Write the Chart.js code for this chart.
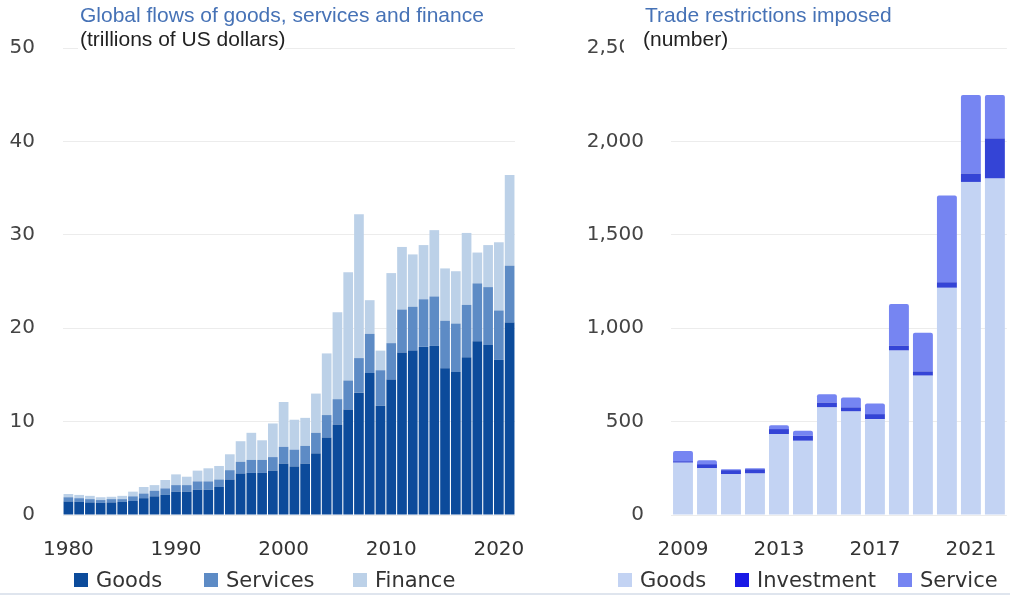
<!DOCTYPE html>
<html>
<head>
<meta charset="utf-8">
<script src="https://cdn.jsdelivr.net/npm/chart.js@4.4.0/dist/chart.umd.min.js"></script>
<style>
  html, body { margin: 0; padding: 0; background: #fff; }
  body { width: 1010px; height: 596px; position: relative; overflow: hidden; font-family: "Liberation Sans", Arial, sans-serif; }
  canvas { position: absolute; top: 0; }
  .title { position: absolute; font-size: 21px; line-height: 24px; color: #4672b6; white-space: nowrap; }
  .sub { position: absolute; font-size: 21px; line-height: 24px; color: #222; white-space: nowrap; background: #fff; padding-bottom: 8px; }
  .lg { position: absolute; top: 568px; height: 24px; display: flex; align-items: center; font-family: "DejaVu Sans", sans-serif; font-size: 21px; color: #333; white-space: nowrap; }
  .lg i { display: inline-block; width: 14px; height: 14px; margin-right: 8px; }
  .rule { position: absolute; left: 0; top: 593px; width: 1010px; height: 2px; background: #dfe5ee; }
</style>
</head>
<body>
<canvas id="flows" width="540" height="596" style="left:0"></canvas>
<canvas id="restr" width="450" height="596" style="left:560px"></canvas>

<div class="title" style="left:80px; top:3px">Global flows of goods, services and finance</div>
<div class="sub" style="left:78px; top:27px; padding-left:2px">(trillions of US dollars)</div>
<div class="title" style="left:645px; top:3px">Trade restrictions imposed</div>
<div class="sub" style="left:624px; top:27px; padding-left:19px">(number)</div>

<div class="lg" style="left:74px"><i style="background:#0c4b9b"></i>Goods</div>
<div class="lg" style="left:204px"><i style="background:#5d8bc5"></i>Services</div>
<div class="lg" style="left:353px"><i style="background:#bcd1e8"></i>Finance</div>
<div class="lg" style="left:618px"><i style="background:#c3d3f3"></i>Goods</div>
<div class="lg" style="left:735px"><i style="background:#1a1ae6"></i>Investment</div>
<div class="lg" style="left:898px"><i style="background:#7685f2"></i>Service</div>
<div class="rule"></div>

<script>
// left panel: global flows, trillions of US dollars
const flowYears = [
  1980, 1981, 1982, 1983, 1984, 1985, 1986, 1987, 1988, 1989,
  1990, 1991, 1992, 1993, 1994, 1995, 1996, 1997, 1998, 1999,
  2000, 2001, 2002, 2003, 2004, 2005, 2006, 2007, 2008, 2009,
  2010, 2011, 2012, 2013, 2014, 2015, 2016, 2017, 2018, 2019,
  2020, 2021
];
const goodsFlow = [
  1.45, 1.4, 1.35, 1.3, 1.35, 1.4, 1.5, 1.8, 2.0, 2.15,
  2.5, 2.5, 2.7, 2.7, 3.0, 3.8, 4.45, 4.5, 4.5, 4.75,
  5.5, 5.2, 5.5, 6.6, 8.3, 9.7, 11.3, 13.1, 15.2, 11.7,
  14.5, 17.4, 17.6, 18.0, 18.1, 15.7, 15.3, 16.9, 18.6, 18.2,
  16.6, 20.6
];
const servicesFlow = [
  0.45, 0.4, 0.35, 0.3, 0.35, 0.3, 0.5, 0.5, 0.6, 0.7,
  0.7, 0.7, 0.9, 0.9, 0.8, 1.0, 1.25, 1.4, 1.4, 1.45,
  1.8, 1.8, 1.9, 2.2, 2.4, 2.7, 3.1, 3.7, 4.2, 3.8,
  3.9, 4.6, 4.7, 5.1, 5.3, 5.1, 5.2, 5.6, 6.2, 6.2,
  5.3, 6.1
];
const financeFlow = [
  0.35, 0.35, 0.35, 0.3, 0.25, 0.35, 0.5, 0.7, 0.6, 0.9,
  1.15, 0.9, 1.15, 1.4, 1.45, 1.7, 2.2, 2.9, 2.1, 3.6,
  4.8, 3.2, 3.0, 4.2, 6.6, 9.3, 11.6, 15.4, 3.6, 2.1,
  7.5, 6.7, 5.6, 5.8, 7.1, 5.6, 5.6, 7.7, 3.3, 4.5,
  7.3, 9.7
];

// right panel: trade restrictions imposed, number
const restrYears = [2009, 2010, 2011, 2012, 2013, 2014, 2015, 2016, 2017, 2018, 2019, 2020, 2021, 2022];
const goodsRestr = [280, 250, 218, 222, 433, 397, 576, 554, 513, 880, 746, 1216, 1783, 1801];
const investmentRestr = [8, 22, 22, 23, 27, 27, 26, 22, 27, 27, 23, 30, 45, 215];
const serviceRestr = [55, 21, 5, 5, 21, 27, 45, 53, 57, 223, 206, 465, 420, 232];

const tickFont = { family: "DejaVu Sans", size: 20 };
const yearFont = { family: "DejaVu Sans", size: 20 };

new Chart(document.getElementById("flows"), {
  type: "bar",
  data: {
    labels: flowYears,
    datasets: [
      { label: "Goods", data: goodsFlow, backgroundColor: "#0c4b9b" },
      { label: "Services", data: servicesFlow, backgroundColor: "#5d8bc5" },
      { label: "Finance", data: financeFlow, backgroundColor: "#bcd1e8" },
    ],
  },
  options: {
    responsive: false,
    animation: false,
    layout: { padding: { top: 48, right: 25, left: 0, bottom: 0 } },
    datasets: { bar: { barPercentage: 0.9, categoryPercentage: 1 } },
    plugins: { legend: { display: false }, tooltip: { enabled: false } },
    scales: {
      x: {
        stacked: true,
        grid: { display: false },
        border: { display: false },
        ticks: {
          autoSkip: false,
          maxRotation: 0,
          padding: 15,
          color: "#333",
          font: yearFont,
          callback: (v, i) => (flowYears[i] % 10 === 0 ? flowYears[i] : ""),
        },
        afterFit: (s) => { s.height = 81; },
      },
      y: {
        stacked: true,
        min: 0,
        max: 50,
        grid: { color: "#ececec", drawTicks: false },
        border: { display: false },
        ticks: { stepSize: 10, padding: 28, color: "#444", font: tickFont },
        afterFit: (s) => { s.width = 63; },
      },
    },
  },
});

new Chart(document.getElementById("restr"), {
  type: "bar",
  data: {
    labels: restrYears,
    datasets: [
      { label: "Goods", data: goodsRestr, backgroundColor: "#c3d3f3" },
      { label: "Investment", data: investmentRestr, backgroundColor: "#3444d6" },
      { label: "Service", data: serviceRestr, backgroundColor: "#7685f2" },
    ],
  },
  options: {
    responsive: false,
    animation: false,
    layout: { padding: { top: 48, right: 3, left: 0, bottom: 0 } },
    datasets: { bar: { barPercentage: 0.83, categoryPercentage: 1, borderRadius: 2 } },
    plugins: { legend: { display: false }, tooltip: { enabled: false } },
    scales: {
      x: {
        stacked: true,
        grid: { display: false },
        border: { display: false },
        ticks: {
          autoSkip: false,
          maxRotation: 0,
          padding: 15,
          color: "#333",
          font: yearFont,
          callback: (v, i) => (i % 4 === 0 ? restrYears[i] : ""),
        },
        afterFit: (s) => { s.height = 81; },
      },
      y: {
        stacked: true,
        min: 0,
        max: 2500,
        grid: { color: "#ececec", drawTicks: false },
        border: { display: false },
        ticks: {
          stepSize: 500,
          padding: 27,
          color: "#444",
          font: tickFont,
          callback: (v) => v.toLocaleString("en-US"),
        },
        afterFit: (s) => { s.width = 111; },
      },
    },
  },
});
</script>
</body>
</html>
